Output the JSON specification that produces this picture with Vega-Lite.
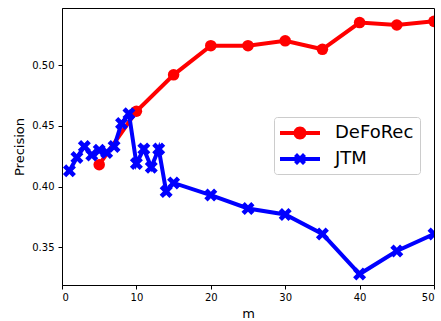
{
  "$schema": "https://vega.github.io/schema/vega-lite/v6.json",
  "width": 372,
  "height": 277,
  "autosize": {"type": "none"},
  "padding": {"left": 62, "top": 8, "right": 7, "bottom": 36},
  "background": "white",
  "config": {
    "view": {"stroke": "black", "strokeWidth": 1},
    "font": "DejaVu Sans",
    "axis": {
      "grid": false,
      "domainColor": "black",
      "tickColor": "black",
      "tickSize": 4,
      "labelFontSize": 10,
      "labelColor": "black",
      "titleFontSize": 13,
      "titleFontWeight": "normal",
      "titleColor": "black",
      "labelFont": "DejaVu Sans",
      "titleFont": "DejaVu Sans"
    }
  },
  "data": {
    "values": [
      {"m": 5, "precision": 0.418, "method": "DeFoRec"},
      {"m": 10, "precision": 0.462, "method": "DeFoRec"},
      {"m": 15, "precision": 0.492, "method": "DeFoRec"},
      {"m": 20, "precision": 0.516, "method": "DeFoRec"},
      {"m": 25, "precision": 0.516, "method": "DeFoRec"},
      {"m": 30, "precision": 0.52, "method": "DeFoRec"},
      {"m": 35, "precision": 0.513, "method": "DeFoRec"},
      {"m": 40, "precision": 0.535, "method": "DeFoRec"},
      {"m": 45, "precision": 0.533, "method": "DeFoRec"},
      {"m": 50, "precision": 0.536, "method": "DeFoRec"},
      {"m": 1, "precision": 0.413, "method": "JTM"},
      {"m": 2, "precision": 0.424, "method": "JTM"},
      {"m": 3, "precision": 0.433, "method": "JTM"},
      {"m": 4, "precision": 0.426, "method": "JTM"},
      {"m": 5, "precision": 0.43, "method": "JTM"},
      {"m": 6, "precision": 0.428, "method": "JTM"},
      {"m": 7, "precision": 0.433, "method": "JTM"},
      {"m": 8, "precision": 0.452, "method": "JTM"},
      {"m": 9, "precision": 0.46, "method": "JTM"},
      {"m": 10, "precision": 0.419, "method": "JTM"},
      {"m": 11, "precision": 0.431, "method": "JTM"},
      {"m": 12, "precision": 0.416, "method": "JTM"},
      {"m": 13, "precision": 0.431, "method": "JTM"},
      {"m": 14, "precision": 0.396, "method": "JTM"},
      {"m": 15, "precision": 0.403, "method": "JTM"},
      {"m": 20, "precision": 0.393, "method": "JTM"},
      {"m": 25, "precision": 0.382, "method": "JTM"},
      {"m": 30, "precision": 0.377, "method": "JTM"},
      {"m": 35, "precision": 0.361, "method": "JTM"},
      {"m": 40, "precision": 0.328, "method": "JTM"},
      {"m": 45, "precision": 0.347, "method": "JTM"},
      {"m": 50, "precision": 0.361, "method": "JTM"}
    ]
  },
  "encoding": {
    "x": {
      "field": "m", "type": "quantitative",
      "scale": {"domain": [0, 50], "nice": false, "zero": false},
      "axis": {"values": [0, 10, 20, 30, 40, 50], "title": "m", "labelPadding": 3, "titlePadding": 5}
    },
    "y": {
      "field": "precision", "type": "quantitative",
      "scale": {"domain": [0.319, 0.547], "nice": false, "zero": false},
      "axis": {"values": [0.35, 0.4, 0.45, 0.5], "format": ".2f", "title": "Precision", "labelPadding": 4, "titlePadding": 5}
    },
    "color": {
      "field": "method", "type": "nominal",
      "scale": {"domain": ["DeFoRec", "JTM"], "range": ["#ff0000", "#0000ff"]},
      "legend": {
        "orient": "none",
        "legendX": 212,
        "legendY": 109,
        "title": null,
        "labelFontSize": 18,
        "labelFont": "DejaVu Sans",
        "labelColor": "black",
        "symbolSize": 400,
        "symbolType": "M-2,-0.2H2V0.2H-2Z",
        "symbolStrokeWidth": 0,
        "symbolOffset": 10,
        "rowPadding": 7,
        "labelOffset": 25,
        "padding": 6,
        "strokeColor": "#cccccc",
        "fillColor": "rgba(255,255,255,0.8)",
        "cornerRadius": 3,
        "encode": {
          "symbols": {
            "update": {
              "shape": [
                {"test": "datum.value === 'DeFoRec'", "value": "M-2,-0.2H2V0.2H-2Z M-0.65,0A0.65,0.65 0 1,1 0.65,0A0.65,0.65 0 1,1 -0.65,0Z"},
                {"value": "M-2,-0.2H2V0.2H-2Z M-0.3,-0.6L0,-0.3L0.3,-0.6L0.6,-0.3L0.3,0L0.6,0.3L0.3,0.6L0,0.3L-0.3,0.6L-0.6,0.3L-0.3,0L-0.6,-0.3Z"}
              ],
              "fill": [
                {"test": "datum.value === 'DeFoRec'", "value": "#ff0000"},
                {"value": "#0000ff"}
              ],
              "strokeWidth": {"value": 0},
              "opacity": {"value": 1}
            }
          }
        }
      }
    }
  },
  "layer": [
    {
      "transform": [{"filter": "datum.method === 'DeFoRec'"}],
      "mark": {"type": "line", "strokeWidth": 4, "clip": true}
    },
    {
      "transform": [{"filter": "datum.method === 'DeFoRec'"}],
      "mark": {"type": "point", "shape": "circle", "filled": true, "size": 133, "opacity": 1, "clip": true}
    },
    {
      "transform": [{"filter": "datum.method === 'JTM'"}],
      "mark": {"type": "line", "strokeWidth": 4, "clip": true}
    },
    {
      "transform": [{"filter": "datum.method === 'JTM'"}],
      "mark": {"type": "point", "shape": "M-0.5,-1L0,-0.5L0.5,-1L1,-0.5L0.5,0L1,0.5L0.5,1L0,0.5L-0.5,1L-1,0.5L-0.5,0L-1,-0.5Z", "filled": true, "size": 169, "opacity": 1, "clip": true}
    }
  ]
}
